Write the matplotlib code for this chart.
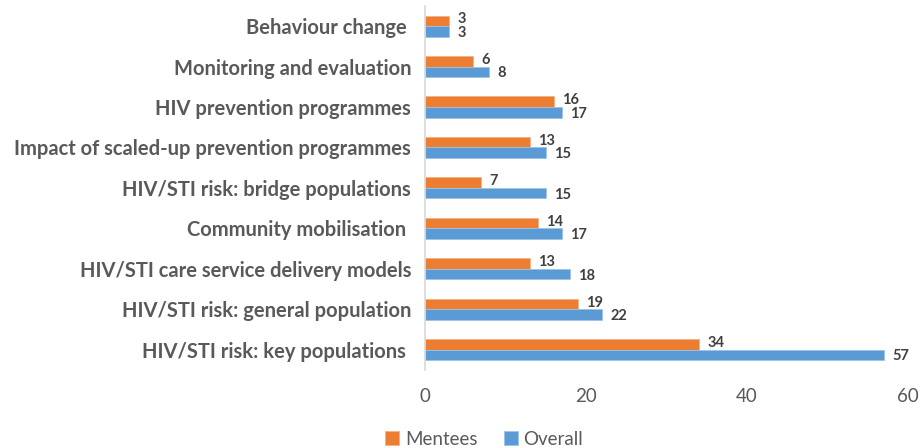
import matplotlib.pyplot as plt
import numpy as np

categories = [
    "HIV/STI risk: key populations ",
    "HIV/STI risk: general population",
    "HIV/STI care service delivery models",
    "Community mobilisation ",
    "HIV/STI risk: bridge populations",
    "Impact of scaled-up prevention programmes",
    "HIV prevention programmes",
    "Monitoring and evaluation",
    "Behaviour change ",
]
mentees = [34, 19, 13, 14, 7, 13, 16, 6, 3]
overall = [57, 22, 18, 17, 15, 15, 17, 8, 3]
x_ticks = [0, 20, 40, 60]

ORANGE = "#ED7D31"
BLUE = "#5B9BD5"
GREY = "#595959"

plt.rcParams["font.family"] = ["Lato", "DejaVu Sans"]

fig = plt.figure(figsize=(9.22, 4.48), dpi=100)
ax = fig.add_axes([0.461, 0.174, 0.524, 0.813])

y = np.arange(len(categories))
h = 0.26
b1 = ax.barh(y + h / 2, mentees, height=h, color=ORANGE, edgecolor="#F4B183",
             linewidth=0.6, label="Mentees")
b2 = ax.barh(y - h / 2, overall, height=h, color=BLUE, edgecolor="#9DC3E6",
             linewidth=0.6, label="Overall")

for bars, vals, dy in ((b1, mentees, 1), (b2, overall, -1)):
    for bar, v in zip(bars, vals):
        ax.annotate(str(v), (bar.get_width(), bar.get_y() + bar.get_height() / 2),
                    xytext=(6, dy), textcoords="offset points", va="center",
                    ha="left", fontsize=10.5, fontweight="bold", color="#404040")

ax.set_xlim(0, 60)
ax.set_ylim(-0.5, len(categories) - 0.5)
ax.set_xticks(x_ticks)
ax.set_yticks(y)
ax.set_yticklabels(categories, fontsize=14.5, fontweight="bold", color=GREY)
ax.tick_params(axis="y", length=0, pad=10)
ax.tick_params(axis="x", length=0, pad=13, labelsize=13.5, labelcolor=GREY)

for side in ("top", "right", "bottom"):
    ax.spines[side].set_visible(False)
ax.spines["left"].set_color("#D9D9D9")
ax.spines["left"].set_linewidth(1.2)

fig.legend(handles=[b1, b2], loc="center", bbox_to_anchor=(0.525, 0.02), ncol=2,
           frameon=False, fontsize=13.5, labelcolor=GREY, handlelength=0.75,
           handleheight=0.75, handletextpad=0.3, columnspacing=1.4)

fig.savefig("out.png", dpi=100)
